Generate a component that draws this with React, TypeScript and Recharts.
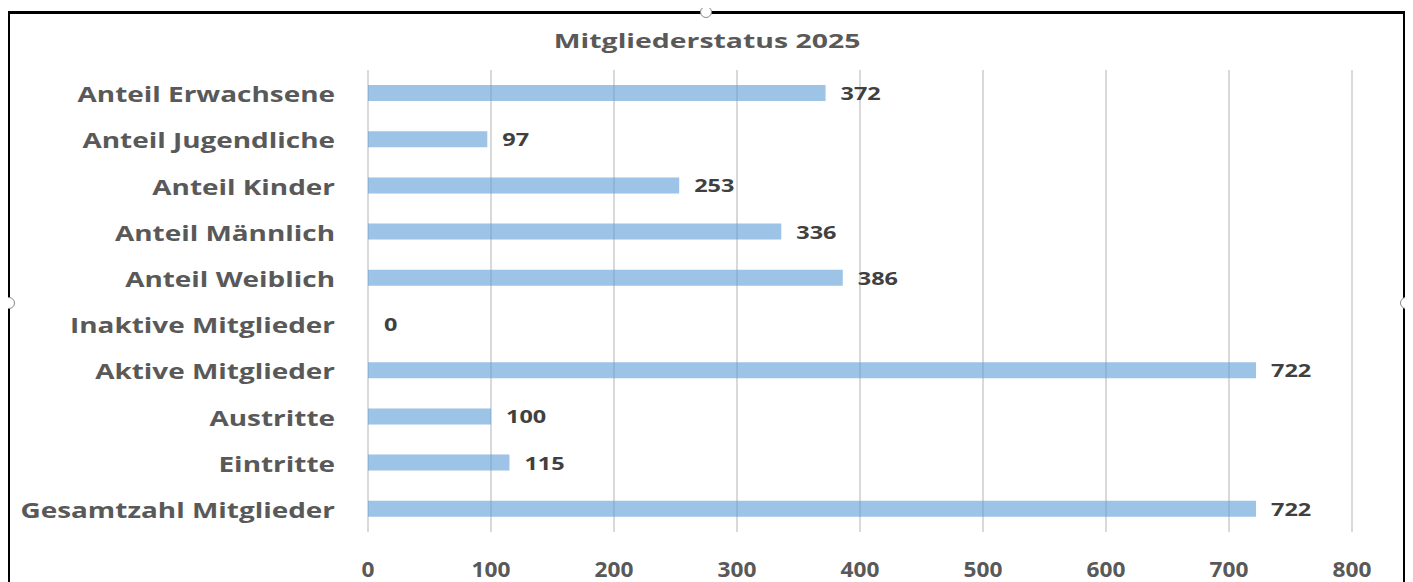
import React from "react";
import { BarChart, Bar, XAxis, YAxis, CartesianGrid, LabelList, Rectangle } from "recharts";

const categories = [
  "Anteil Erwachsene",
  "Anteil Jugendliche",
  "Anteil Kinder",
  "Anteil Männlich",
  "Anteil Weiblich",
  "Inaktive Mitglieder",
  "Aktive Mitglieder",
  "Austritte",
  "Eintritte",
  "Gesamtzahl Mitglieder",
];
const values = [372, 97, 253, 336, 386, 0, 722, 100, 115, 722];
const xTicks = [0, 100, 200, 300, 400, 500, 600, 700, 800];

const data = categories.map((name, i) => ({ name, value: values[i] }));

const FONT = "'Open Sans', sans-serif";
// the source picture is stretched horizontally, so widen the text a bit
const STRETCH = 1.33;

const CategoryTick = (props: any) => {
  const { y, payload } = props;
  return (
    <text
      transform={`translate(335,${y + 9}) scale(${STRETCH},1)`}
      textAnchor="end"
      fill="#595959"
      fontFamily={FONT}
      fontWeight={700}
      fontSize={21}
    >
      {payload.value}
    </text>
  );
};

const ValueTick = (props: any) => {
  const { x, payload } = props;
  return (
    <text
      transform={`translate(${x},577) scale(1.08,1)`}
      textAnchor="middle"
      fill="#595959"
      fontFamily={FONT}
      fontWeight={700}
      fontSize={21}
    >
      {payload.value}
    </text>
  );
};

const ValueLabel = (props: any) => {
  const { x, y, width, height, value } = props;
  return (
    <text
      transform={`translate(${x + width + 15},${y + height / 2 + 7}) scale(1.38,1)`}
      fill="#404040"
      fontFamily={FONT}
      fontWeight={700}
      fontSize={17}
    >
      {value}
    </text>
  );
};

// zero values keep a 1px slot (so the label still shows) but draw nothing
const BarShape = (props: any) => {
  if (!props.value) return <g />;
  return <Rectangle {...props} />;
};

const handle = (left: number, top: number): React.CSSProperties => ({
  position: "absolute",
  left: left - 6,
  top: top - 6,
  width: 10,
  height: 10,
  borderRadius: "50%",
  border: "1px solid #8a8a8a",
  background: "#fff",
});

export default function App() {
  return (
    <div style={{ position: "relative", width: 1413, height: 582, margin: "-8px 0 0 -8px", overflow: "hidden", background: "#fff" }}>
      <div
        style={{
          position: "absolute",
          left: 7,
          top: 11,
          width: 1393,
          height: 620,
          borderTop: "3px solid #000",
          borderLeft: "3px solid #000",
          borderRight: "3px solid #000",
        }}
      />
      <div style={handle(706, 12)} />
      <div style={handle(9, 303)} />
      <div style={handle(1406, 303)} />
      <div
        style={{
          position: "absolute",
          left: 0,
          top: 27,
          width: 1413,
          textAlign: "center",
          fontFamily: FONT,
          fontWeight: 700,
          fontSize: 20,
          color: "#595959",
          transform: "scaleX(1.42)",
          transformOrigin: "705px 0",
        }}
      >
        Mitgliederstatus 2025
      </div>
      <div style={{ position: "absolute", left: 0, top: 0 }}>
        <BarChart
          width={1413}
          height={582}
          data={data}
          layout="vertical"
          margin={{ top: 70, right: 61, bottom: 0, left: 0 }}
          barSize={16}
        >
          <CartesianGrid horizontal={false} stroke="#d9d9d9" strokeWidth={2} />
          <XAxis
            type="number"
            domain={[0, 800]}
            ticks={xTicks}
            axisLine={false}
            tickLine={false}
            height={50}
            tick={<ValueTick />}
            interval={0}
          />
          <YAxis
            type="category"
            dataKey="name"
            width={368}
            axisLine={false}
            tickLine={false}
            tick={<CategoryTick />}
            interval={0}
          />
          <Bar
            dataKey="value"
            fill="#5B9BD5"
            fillOpacity={0.6}
            minPointSize={1}
            shape={<BarShape />}
            isAnimationActive={false}
          >
            <LabelList dataKey="value" content={<ValueLabel />} />
          </Bar>
        </BarChart>
      </div>
    </div>
  );
}
